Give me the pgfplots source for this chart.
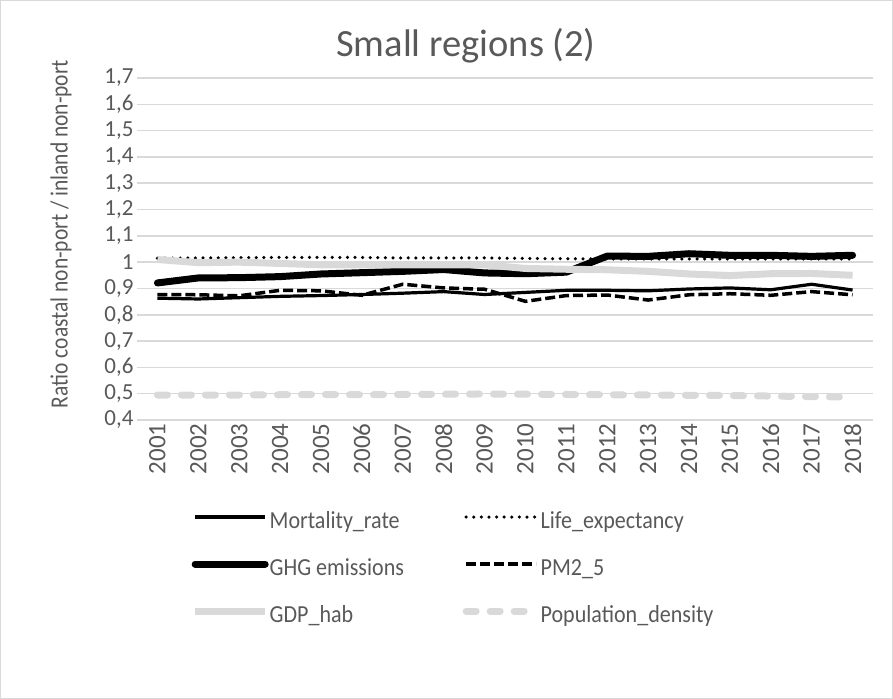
\documentclass[border=0pt]{standalone}
\usepackage{fontspec}
\setmainfont{Carlito}
\newfontfamily\legfont{Carlito}[FakeStretch=0.9]
\usepackage{pgfplots}
\usepackage{pgfplotstable}
\pgfplotsset{compat=1.18}
\definecolor{txt}{HTML}{595959}
\definecolor{grd}{HTML}{D9D9D9}
\pgfplotstableread{
year mort life ghg pm gdp pop
2001 0.863 1.015 0.921 0.877 1.010 0.495
2002 0.860 1.016 0.940 0.876 0.998 0.495
2003 0.865 1.017 0.941 0.872 1.000 0.495
2004 0.870 1.018 0.945 0.893 0.995 0.496
2005 0.873 1.018 0.955 0.891 0.990 0.497
2006 0.877 1.018 0.960 0.874 0.990 0.496
2007 0.882 1.016 0.965 0.916 0.990 0.497
2008 0.888 1.016 0.972 0.902 0.990 0.498
2009 0.877 1.016 0.959 0.897 0.990 0.499
2010 0.885 1.014 0.956 0.851 0.976 0.498
2011 0.893 1.013 0.962 0.873 0.973 0.497
2012 0.893 1.012 1.023 0.875 0.971 0.496
2013 0.891 1.012 1.022 0.856 0.965 0.495
2014 0.898 1.012 1.032 0.876 0.955 0.494
2015 0.902 1.012 1.026 0.880 0.949 0.493
2016 0.895 1.012 1.026 0.874 0.956 0.491
2017 0.916 1.012 1.022 0.888 0.957 0.489
2018 0.894 1.012 1.026 0.876 0.950 0.487
}\datatable
\begin{document}
\begin{tikzpicture}
\path[use as bounding box] (0,0) rectangle (893bp,699bp);
\draw[grd, line width=1bp] (0.5bp,0.5bp) rectangle (892.5bp,698.5bp);
\node[txt, font=\fontsize{38.5bp}{42bp}\selectfont] at (466bp,653bp) {Small regions (2)};
\node[txt, rotate=90, font=\fontsize{21.5bp}{26bp}\selectfont] at (61bp,465bp) {\scalebox{1}[1.15]{Ratio coastal non-port / inland non-port}};
\begin{axis}[at={(137bp,279bp)}, anchor=south west, scale only axis,
  width=736bp, height=342bp,
  xmin=2000.5, xmax=2018.5, ymin=0.4, ymax=1.7,
  ytick={0.4,0.5,0.6,0.7,0.8,0.9,1,1.1,1.2,1.3,1.4,1.5,1.6,1.7},
  xtick={2001,2002,2003,2004,2005,2006,2007,2008,2009,2010,2011,2012,2013,2014,2015,2016,2017,2018},
  axis line style={draw=none}, tick style={draw=none},
  ymajorgrids, grid style={grd, line width=1.5bp},
  /pgf/number format/assume math mode=true,
  yticklabel style={/pgf/number format/use comma, /pgf/number format/fixed, /pgf/number format/precision=1, text=txt, font=\fontsize{23bp}{26bp}\selectfont},
  xticklabel style={/pgf/number format/1000 sep={}, rotate=90, anchor=east, text=txt, font=\fontsize{25bp}{28bp}\selectfont},
  legend columns=2,
  legend cell align=left,
  legend image code/.code={\draw[#1] (0bp,6bp) -- (70bp,6bp);},
  legend style={at={(axis description cs:0.074,-0.270)}, anchor=north west, draw=none, fill=none,
     inner sep=0pt, row sep=26bp, column sep=0bp,
     nodes={inner xsep=1bp, inner ysep=0bp, text=txt, text height=16bp, text depth=5bp, font=\legfont\fontsize{24.5bp}{28bp}\selectfont}},
]
\addplot[black, line width=3.2bp, line join=round] table[x=year, y=mort] {\datatable};
\addlegendentry{\makebox[192bp][l]{Mortality\_rate}}
\addplot[black, line width=3.5bp, line cap=round, dash pattern=on 0bp off 7.6bp] table[x=year, y=life] {\datatable};
\addlegendentry{Life\_expectancy}
\addplot[black, line width=7bp, line cap=round, line join=round] table[x=year, y=ghg] {\datatable};
\addlegendentry{\makebox[192bp][l]{GHG emissions}}
\addplot[black, line width=3.5bp, dash pattern=on 10bp off 4bp] table[x=year, y=pm] {\datatable};
\addlegendentry{PM2\_5}
\addplot[grd, line width=7bp, line join=round] table[x=year, y=gdp] {\datatable};
\addlegendentry{\makebox[192bp][l]{GDP\_hab}}
\addplot[grd, line width=7bp, line cap=round, dash pattern=on 10bp off 14bp] table[x=year, y=pop] {\datatable};
\addlegendentry{Population\_density}
\end{axis}
\end{tikzpicture}
\end{document}
